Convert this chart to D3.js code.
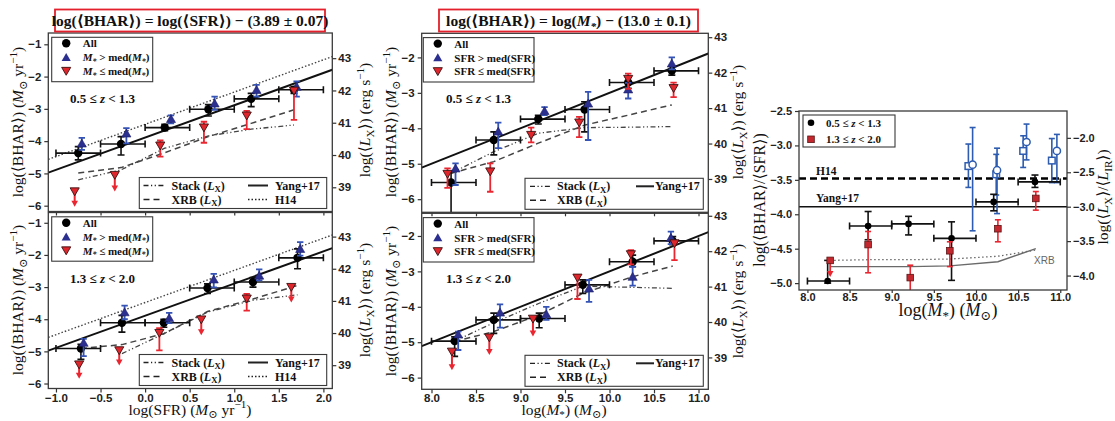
<!DOCTYPE html>
<html>
<head>
<meta charset="utf-8">
<script src="https://cdn.jsdelivr.net/npm/d3@7"></script>
<style>
  body { margin: 0; background: #fff; }
  svg { display: block; }
</style>
</head>
<body>
<svg id="fig" width="1115" height="421"></svg>
<script>
// ---------------- bins and ticks ----------------
const sfrBinEdges  = [-1.0, -0.5, 0.0, 0.5, 1.0, 1.5, 2.0];
const massBinEdges = [8.0, 8.5, 9.0, 9.5, 10.0, 10.5, 11.0];
const sfrTicks   = [-1.0, -0.5, 0.0, 0.5, 1.0, 1.5, 2.0];
const massTicks  = [8.0, 8.5, 9.0, 9.5, 10.0, 10.5, 11.0];
const bharTicksSfr  = [-6, -5, -4, -3, -2, -1];
const bharTicksMass = [-6, -5, -4, -3, -2];
const lxTicks    = [39, 40, 41, 42, 43];
const ratioTicks = [-5.0, -4.5, -4.0, -3.5, -3.0, -2.5];
const lxirTicks  = [-4.0, -3.5, -3.0, -2.5, -2.0];

// relations
const yangSfrOffset  = -3.89;   // log BHAR = log SFR - 3.89
const h14SfrOffset   = -3.48;
const yangMassOffset = -13.0;   // log BHAR = log M* - 13.0
const yangRatio = -3.89;
const h14Ratio  = -3.48;
const LX_OFFSET = 44.43;        // log Lx = log BHAR + offset
const LXIR_OFFSET = 0.89;       // log Lx/LIR = log BHAR/SFR + offset

// ---------------- BHAR vs SFR, 0.5 <= z < 1.3 ----------------
// [x, y, yLow, yHigh]
const sfrLoAll = [
  [-0.75, -4.37, -4.58, -4.17],
  [-0.27, -4.09, -4.43, -3.86],
  [ 0.22, -3.58, -3.68, -3.48],
  [ 0.71, -3.01, -3.22, -2.87],
  [ 1.19, -2.69, -2.93, -2.52],
  [ 1.67, -2.41, -2.52, -2.32]
];
const sfrLoHighMass = [
  [-0.71, -4.07, -4.27, -3.90],
  [-0.21, -3.76, -4.07, -3.60],
  [ 0.29, -3.31, -3.45, -3.20],
  [ 0.78, -2.83, -3.03, -2.62],
  [ 1.25, -2.41, -2.62, -2.26],
  [ 1.70, -2.31, -2.62, -2.15]
];
// [x, y, yLow, yHigh, upperLimit]
const sfrLoLowMass = [
  [-0.79, -5.56, -6.03, -5.56, 1],
  [-0.34, -5.05, -5.56, -5.05, 1],
  [ 0.17, -4.14, -4.48, -3.98, 0],
  [ 0.66, -3.58, -4.05, -3.40, 0],
  [ 1.14, -3.21, -3.63, -3.06, 0],
  [ 1.67, -2.44, -3.34, -2.36, 0]
];
const sfrLoCurveX = [-0.75, -0.27, 0.22, 0.71, 1.19, 1.67];
const sfrLoStack  = [-5.20, -4.89, -4.22, -3.84, -3.63, -3.50];
const sfrLoXrb    = [-4.99, -4.82, -4.36, -3.86, -3.45, -3.03];

// ---------------- BHAR vs SFR, 1.3 <= z < 2.0 ----------------
const sfrHiAll = [
  [-0.72, -4.91, -5.25, -4.78],
  [-0.26, -4.11, -4.40, -3.88],
  [ 0.21, -4.11, -4.25, -4.00],
  [ 0.70, -3.03, -3.20, -2.90],
  [ 1.21, -2.84, -3.00, -2.70],
  [ 1.71, -2.09, -2.43, -1.81]
];
const sfrHiHighMass = [
  [-0.69, -4.73, -5.15, -4.61],
  [-0.23, -3.78, -4.00, -3.58],
  [ 0.27, -3.96, -4.12, -3.80],
  [ 0.77, -2.76, -3.01, -2.59],
  [ 1.28, -2.64, -2.79, -2.45],
  [ 1.74, -1.81, -2.02, -1.60]
];
const sfrHiLowMass = [
  [-0.74, -5.41, -5.85, -5.41, 1],
  [-0.29, -4.97, -5.44, -4.97, 1],
  [ 0.16, -4.43, -4.97, -4.28, 0],
  [ 0.63, -4.01, -4.50, -4.01, 1],
  [ 1.14, -3.36, -3.73, -3.21, 0],
  [ 1.64, -3.00, -3.48, -3.00, 1]
];
const sfrHiStackX = [-0.26, 0.21, 0.70, 1.21, 1.71];
const sfrHiStack  = [-5.07, -4.45, -3.78, -3.41, -3.24];
const sfrHiXrbX   = [-0.72, -0.26, 0.21, 0.70, 1.21, 1.71];
const sfrHiXrb    = [-4.91, -4.79, -4.45, -3.76, -3.37, -2.95];

// ---------------- BHAR vs M*, 0.5 <= z < 1.3 ----------------
const massLoAll = [
  [ 8.22, -5.53, -6.80, -5.22],
  [ 8.70, -4.33, -4.75, -4.10],
  [ 9.20, -3.74, -3.88, -3.63],
  [ 9.72, -3.47, -4.10, -3.25],
  [10.21, -2.71, -2.87, -2.55],
  [10.70, -2.38, -2.50, -2.25]
];
const massLoHighSfr = [
  [ 8.27, -5.13, -5.60, -4.99],
  [ 8.75, -4.09, -4.56, -3.84],
  [ 9.27, -3.51, -3.63, -3.40],
  [ 9.76, -3.30, -4.33, -2.97],
  [10.21, -2.90, -3.16, -2.72],
  [10.70, -2.17, -2.34, -2.00]
];
const massLoLowSfr = [
  [ 8.18, -5.29, -5.68, -5.13, 0],
  [ 8.66, -5.22, -5.79, -4.99, 0],
  [ 9.12, -4.19, -4.40, -3.98, 0],
  [ 9.66, -3.84, -4.25, -3.68, 0],
  [10.21, -2.61, -2.89, -2.46, 0],
  [10.72, -2.87, -3.12, -2.71, 0]
];
const massLoCurveX = [8.22, 8.70, 9.20, 9.72, 10.21, 10.70];
const massLoStack  = [-5.27, -4.66, -4.14, -3.98, -3.97, -3.95];
const massLoXrb    = [-5.27, -4.94, -4.42, -3.91, -3.63, -3.34];

// ---------------- BHAR vs M*, 1.3 <= z < 2.0 ----------------
const massHiAll = [
  [ 8.26, -4.97, -5.40, -4.85],
  [ 8.70, -4.37, -4.75, -4.18],
  [ 9.21, -4.33, -4.59, -4.18],
  [ 9.70, -3.38, -3.62, -3.24],
  [10.26, -2.73, -2.87, -2.54],
  [10.71, -2.14, -2.25, -2.02]
];
const massHiHighSfr = [
  [ 8.30, -4.78, -5.22, -4.70],
  [ 8.77, -4.16, -4.59, -3.93],
  [ 9.29, -4.21, -4.37, -4.00],
  [ 9.77, -3.48, -3.86, -3.24],
  [10.26, -3.15, -3.40, -2.87],
  [10.69, -2.05, -2.23, -1.88]
];
const massHiLowSfr = [
  [ 8.23, -5.27, -5.79, -5.27, 1],
  [ 8.65, -4.87, -5.36, -4.87, 1],
  [ 9.14, -4.34, -4.84, -4.34, 1],
  [ 9.64, -3.18, -3.78, -3.12, 0],
  [10.24, -2.52, -2.80, -2.40, 0],
  [10.73, -2.21, -2.68, -2.21, 0]
];
const massHiCurveX = [8.26, 8.70, 9.21, 9.70, 10.26, 10.71];
const massHiStack  = [-4.97, -4.45, -3.90, -3.42, -3.45, -3.48];
const massHiXrb    = [-4.98, -4.70, -4.23, -3.62, -3.15, -2.85];

// ---------------- BHAR/SFR vs M* ----------------
const ratioLoZ = [
  [ 8.24, -4.97, -5.00, -4.67],
  [ 8.72, -4.17, -4.37, -3.96],
  [ 9.20, -4.14, -4.30, -4.03],
  [ 9.71, -4.35, -4.96, -4.11],
  [10.21, -3.82, -3.95, -3.71],
  [10.70, -3.53, -3.61, -3.43]
];
const ratioHiZ = [
  [ 8.27, -4.67, -4.91, -4.67, 1],
  [ 8.72, -4.44, -4.85, -4.25, 0],
  [ 9.22, -4.92, -5.30, -4.74, 0],
  [ 9.69, -4.53, -4.76, -4.40, 0],
  [10.26, -4.21, -4.40, -4.08, 0],
  [10.71, -3.77, -3.94, -3.67, 0]
];
const ratioOpenSquares = [
  [ 9.91, -3.30, -3.61, -2.98],
  [10.24, -3.42, -3.72, -3.13],
  [10.56, -3.08, -3.32, -2.86],
  [10.90, -3.22, -3.54, -2.90]
];
const ratioOpenCircles = [
  [ 9.96, -3.28, -4.24, -2.74],
  [10.25, -3.36, -3.99, -3.04],
  [10.60, -2.95, -3.21, -2.69],
  [10.96, -3.08, -3.54, -2.84]
];
const ratioCurveX = [8.27, 8.72, 9.22, 9.69, 10.26, 10.71];
const ratioStack  = [-4.67, -4.66, -4.66, -4.65, -4.61, -4.52];
const ratioXrb    = [-4.76, -4.76, -4.76, -4.75, -4.69, -4.50];

// ---------------- drawing ----------------
const svg = d3.select('#fig');
const SERIF = '"Liberation Serif","DejaVu Serif",serif';
const SANS  = '"Liberation Sans","DejaVu Sans",sans-serif';
const BLUE_FILL = '#2b2f8f', BLUE_ERR = '#3553b5';
const RED_FILL = '#e0262d', RED_ERR = '#ea2630';
const OPEN_BLUE = '#2d5cb0';
const fmt0 = d3.format('d'), fmt1 = d3.format('.1f');
let clipId = 0;

// text with italic / sub / superscript pieces
function addRich(textSel, parts, fs) {
  let shift = 0;
  parts.forEach(([str, st]) => {
    const t = textSel.append('tspan').text(str);
    let target = 0, size = fs;
    if (st === 'sub' || st === 'isub') { target = fs * 0.24; size = fs * 0.72; }
    if (st === 'sup') { target = -fs * 0.40; size = fs * 0.72; }
    if (st === 'i' || st === 'isub') t.attr('font-style', 'italic');
    t.attr('font-size', size);
    if (target - shift !== 0) t.attr('dy', target - shift);
    shift = target;
  });
}
function richText(x, y, parts, fs, opts = {}) {
  const t = svg.append('text')
    .attr('font-family', opts.family || SERIF)
    .attr('font-weight', opts.weight || 'normal')
    .attr('font-size', fs)
    .attr('fill', opts.fill || '#111')
    .attr('text-anchor', opts.anchor || 'start');
  if (opts.rotate) t.attr('transform', `translate(${x},${y}) rotate(-90)`);
  else t.attr('x', x).attr('y', y);
  addRich(t, parts, fs);
  return t;
}

function styleAxis(a, fs) {
  a.select('.domain').remove();
  a.selectAll('.tick line').attr('stroke', '#333').attr('stroke-width', 1.2);
  a.selectAll('.tick text').attr('font-family', SANS).attr('font-weight', 'bold')
    .attr('font-size', fs).attr('fill', '#222');
}

function makePanel(o) {
  const x = d3.scaleLinear().domain(o.xDomain).range([o.x0, o.x1]);
  const y = d3.scaleLinear().domain(o.yDomain).range([o.y1, o.y0]);
  const yR = d3.scaleLinear().domain(o.yDomain.map(v => v + o.rOffset)).range([o.y1, o.y0]);
  const id = 'clip' + (clipId++);
  svg.append('clipPath').attr('id', id).append('rect')
    .attr('x', o.x0).attr('y', o.y0).attr('width', o.x1 - o.x0).attr('height', o.y1 - o.y0);
  const plot = svg.append('g').attr('clip-path', `url(#${id})`);
  const axes = svg.append('g');
  const fs = o.tickFont || 11.5;
  const add = (gen, tx, ty) => styleAxis(axes.append('g').attr('transform', `translate(${tx},${ty})`).call(gen), fs);
  add(d3.axisLeft(y).tickValues(o.yTicks).tickFormat(o.yFmt).tickSize(4).tickPadding(3), o.x0, 0);
  add(d3.axisRight(yR).tickValues(o.rTicks).tickFormat(o.rFmt).tickSize(4).tickPadding(2), o.x1, 0);
  add(d3.axisBottom(x).tickValues(o.xTicks).tickFormat(o.showX ? o.xFmt : () => '')
    .tickSize(o.xTickSize || 4).tickPadding(o.xPad === undefined ? 1 : o.xPad), 0, o.y1);
  axes.append('rect').attr('x', o.x0).attr('y', o.y0).attr('width', o.x1 - o.x0).attr('height', o.y1 - o.y0)
    .attr('fill', 'none').attr('stroke', '#3a3a3a').attr('stroke-width', 1.3);
  return { x, y, plot, o };
}

function seg(g, x1, y1, x2, y2, color, w, dash) {
  const l = g.append('line').attr('x1', x1).attr('y1', y1).attr('x2', x2).attr('y2', y2)
    .attr('stroke', color).attr('stroke-width', w);
  if (dash) l.attr('stroke-dasharray', dash);
  return l;
}
function errV(g, px, ya, yb, color, cap, w) {
  seg(g, px, ya, px, yb, color, w);
  seg(g, px - cap, ya, px + cap, ya, color, w);
  seg(g, px - cap, yb, px + cap, yb, color, w);
}
function arrowDown(g, px, yTip, color) {
  g.append('path').attr('d', `M${px - 3.3},${yTip - 6}L${px + 3.3},${yTip - 6}L${px},${yTip}Z`).attr('fill', color);
}

// straight relation of slope one
function relation(p, offset, color, w, dash) {
  const [a, b] = p.x.domain();
  const l = p.plot.append('path')
    .attr('d', d3.line()([[p.x(a), p.y(a + offset)], [p.x(b), p.y(b + offset)]]))
    .attr('fill', 'none').attr('stroke', color).attr('stroke-width', w);
  if (dash) l.attr('stroke-dasharray', dash);
}
function hline(p, v, color, w, dash) {
  const [a, b] = p.x.domain();
  seg(p.plot, p.x(a), p.y(v), p.x(b), p.y(v), color, w, dash);
}
function curve(p, xs, ys, color, w, dash) {
  const l = p.plot.append('path')
    .attr('d', d3.line().x(d => p.x(d[0])).y(d => p.y(d[1]))(d3.zip(xs, ys)))
    .attr('fill', 'none').attr('stroke', color).attr('stroke-width', w);
  if (dash) l.attr('stroke-dasharray', dash);
}

const STACK_DASH = '5,2.5,1.2,2.5,1.2,2.5';
const XRB_DASH = '6,4';
const H14_DASH = '1.5,2';

function drawAll(p, rows, edges, r = 4.2) {
  const g = p.plot;
  rows.forEach((d, i) => {
    const py = p.y(d[1]);
    const xa = p.x(edges[i]), xb = p.x(edges[i + 1]);
    seg(g, xa, py, xb, py, '#111', 1.6);
    seg(g, xa, py - 3.5, xa, py + 3.5, '#111', 1.6);
    seg(g, xb, py - 3.5, xb, py + 3.5, '#111', 1.6);
    errV(g, p.x(d[0]), p.y(d[2]), p.y(d[3]), '#111', 3.5, 1.6);
    g.append('circle').attr('cx', p.x(d[0])).attr('cy', py).attr('r', r).attr('fill', '#000');
  });
}
const triUp = d3.symbol(d3.symbolTriangle, 36)();
function drawUp(p, rows) {
  const g = p.plot;
  rows.forEach(d => {
    const px = p.x(d[0]);
    errV(g, px, p.y(d[2]), p.y(d[3]), BLUE_ERR, 3.2, 1.8);
    g.append('path').attr('d', triUp).attr('transform', `translate(${px},${p.y(d[1]) + 1})`)
      .attr('fill', BLUE_FILL).attr('stroke', '#1c1f6a').attr('stroke-width', 0.6);
  });
}
function drawDown(p, rows) {
  const g = p.plot;
  rows.forEach(d => {
    const px = p.x(d[0]), py = p.y(d[1]);
    if (d[4]) {
      seg(g, px, py, px, p.y(d[2]) - 4, RED_ERR, 2);
      arrowDown(g, px, p.y(d[2]), RED_ERR);
    } else {
      errV(g, px, p.y(d[2]), p.y(d[3]), RED_ERR, 3.2, 1.8);
    }
    g.append('path').attr('d', triUp).attr('transform', `translate(${px},${py - 1}) rotate(180)`)
      .attr('fill', RED_FILL).attr('stroke', '#3a1010').attr('stroke-width', 0.9);
  });
}

// legend of marker series in upper left corner
function markerLegend(p, x0, w, labels, fs) {
  const top = p.o.y0 + 4.3;
  const g = svg.append('g');
  g.append('rect').attr('x', x0).attr('y', top).attr('width', w).attr('height', 44.4)
    .attr('fill', '#fff').attr('stroke', '#3a3a3a').attr('stroke-width', 1.1);
  const mx = x0 + 14.5, tx = x0 + 31;
  const rows = [top + 6, top + 20, top + 33.7];
  g.append('circle').attr('cx', mx).attr('cy', rows[0]).attr('r', 4.2).attr('fill', '#000');
  g.append('path').attr('d', triUp).attr('transform', `translate(${mx},${rows[1] + 1})`).attr('fill', BLUE_FILL);
  g.append('path').attr('d', triUp).attr('transform', `translate(${mx},${rows[2] - 1}) rotate(180)`)
    .attr('fill', RED_FILL).attr('stroke', '#3a1010').attr('stroke-width', 0.9);
  labels.forEach((parts, i) => richText(tx, rows[i] + 4, parts, fs, { weight: 'bold' }));
}

// legend of lines in lower right corner
function lineLegend(p, x0, x1, cols) {
  const bot = p.o.y1;
  svg.append('rect').attr('x', x0).attr('y', bot - 34).attr('width', x1 - x0).attr('height', 31)
    .attr('fill', '#fff').attr('stroke', '#3a3a3a').attr('stroke-width', 1.1);
  const rows = [bot - 26, bot - 12];
  cols.forEach(c => c.items.forEach((it, i) => {
    seg(svg, c.lx, rows[i], c.lx + c.len, rows[i], '#222', it.w, it.dash);
    richText(c.tx, rows[i] + 4, it.parts, 12, { weight: 'bold' });
  }));
}

function zLabel(p, x, parts) {
  richText(x, p.o.y0 + 70, parts, 13, { weight: 'bold' });
}

// ---------------- text pieces ----------------
const yBharParts = [['log(⟨BHAR⟩) ('], ['M', 'i'], ['⊙', 'sub'], [' yr'], ['−1', 'sup'], [')']];
const yLxParts   = [['log(⟨'], ['L', 'i'], ['X', 'sub'], ['⟩) (erg s'], ['−1', 'sup'], [')']];
const xSfrParts  = [['log(SFR) ('], ['M', 'i'], ['⊙', 'sub'], [' yr'], ['−1', 'sup'], [')']];
const xMassParts = [['log('], ['M', 'i'], ['*', 'sub'], [') ('], ['M', 'i'], ['⊙', 'sub'], [')']];
const yRatioParts = [['log(⟨BHAR⟩/⟨SFR⟩)']];
const yLxIrParts  = [['log(⟨'], ['L', 'i'], ['X', 'sub'], ['⟩/⟨'], ['L', 'i'], ['IR', 'sub'], ['⟩)']];
const zLoParts = [['0.5 ≤ '], ['z', 'i'], [' < 1.3']];
const zHiParts = [['1.3 ≤ '], ['z', 'i'], [' < 2.0']];
const massSplitLabels = [
  [['All']],
  [['M', 'i'], ['*', 'isub'], [' > med('], ['M', 'i'], ['*', 'isub'], [')']],
  [['M', 'i'], ['*', 'isub'], [' ≤ med('], ['M', 'i'], ['*', 'isub'], [')']]
];
const sfrSplitLabels = [[['All']], [['SFR > med(SFR)']], [['SFR ≤ med(SFR)']]];
const stackParts = [['Stack ('], ['L', 'i'], ['X', 'sub'], [')']];
const xrbParts   = [['XRB ('], ['L', 'i'], ['X', 'sub'], [')']];

// ---------------- panels: BHAR vs SFR ----------------
const sfrPanelCfg = { x0: 48.3, x1: 332.3, xDomain: [-1.086, 2.10], xTicks: sfrTicks, yTicks: bharTicksSfr,
  rTicks: lxTicks, rOffset: LX_OFFSET, xFmt: fmt1, yFmt: fmt0, rFmt: fmt0 };
const pA = makePanel({ ...sfrPanelCfg, y0: 33, y1: 211.5, yDomain: [-6.18, -0.65], showX: false });
const pB = makePanel({ ...sfrPanelCfg, y0: 212.5, y1: 388.5, yDomain: [-6.155, -0.68], showX: true });

[[pA, sfrLoCurveX, sfrLoStack, sfrLoCurveX, sfrLoXrb, sfrLoAll, sfrLoHighMass, sfrLoLowMass],
 [pB, sfrHiStackX, sfrHiStack, sfrHiXrbX, sfrHiXrb, sfrHiAll, sfrHiHighMass, sfrHiLowMass]]
  .forEach(([p, sx, sy, xx, xy, all, hi, lo]) => {
    relation(p, h14SfrOffset, '#444', 1.4, H14_DASH);
    relation(p, yangSfrOffset, '#111', 2);
    curve(p, sx, sy, '#444', 1.3, STACK_DASH);
    curve(p, xx, xy, '#444', 1.5, XRB_DASH);
    drawAll(p, all, sfrBinEdges);
    drawUp(p, hi);
    drawDown(p, lo);
    markerLegend(p, 51.7, 101, massSplitLabels, 11);
    lineLegend(p, 139.3, 326.7, [
      { lx: 143.5, len: 20, tx: 171.5, items: [{ parts: stackParts, w: 1.3, dash: STACK_DASH }, { parts: xrbParts, w: 1.5, dash: XRB_DASH }] },
      { lx: 248, len: 20, tx: 275, items: [{ parts: [['Yang+17']], w: 2 }, { parts: [['H14']], w: 1.4, dash: H14_DASH }] }
    ]);
  });
zLabel(pA, 70, zLoParts);
zLabel(pB, 70, zHiParts);

// ---------------- panels: BHAR vs M* ----------------
const massPanelCfg = { x0: 421.7, x1: 708.3, xDomain: [7.89, 11.11], xTicks: massTicks, yTicks: bharTicksMass,
  rTicks: lxTicks, rOffset: LX_OFFSET, xFmt: fmt1, yFmt: fmt0, rFmt: fmt0 };
const pC = makePanel({ ...massPanelCfg, y0: 33.3, y1: 212.3, yDomain: [-6.37, -1.32], showX: false });
const pD = makePanel({ ...massPanelCfg, y0: 213.3, y1: 389.3, yDomain: [-6.33, -1.36], showX: true });

[[pC, massLoCurveX, massLoStack, massLoXrb, massLoAll, massLoHighSfr, massLoLowSfr],
 [pD, massHiCurveX, massHiStack, massHiXrb, massHiAll, massHiHighSfr, massHiLowSfr]]
  .forEach(([p, cx, sy, xy, all, hi, lo]) => {
    relation(p, yangMassOffset, '#111', 2);
    curve(p, cx, sy, '#444', 1.3, STACK_DASH);
    curve(p, cx, xy, '#444', 1.5, XRB_DASH);
    drawAll(p, all, massBinEdges);
    drawUp(p, hi);
    drawDown(p, lo);
    markerLegend(p, 423.3, 110.7, sfrSplitLabels, 11);
    lineLegend(p, 525, 703.3, [
      { lx: 530, len: 20, tx: 557, items: [{ parts: stackParts, w: 1.3, dash: STACK_DASH }, { parts: xrbParts, w: 1.5, dash: XRB_DASH }] },
      { lx: 636, len: 18, tx: 655, items: [{ parts: [['Yang+17']], w: 2 }] }
    ]);
  });
zLabel(pC, 446, zLoParts);
zLabel(pD, 446, zHiParts);

// ---------------- panel: BHAR/SFR vs M* ----------------
const pE = makePanel({ x0: 799, x1: 1067, y0: 111, y1: 290, xDomain: [7.9, 11.08], yDomain: [-5.1, -2.5],
  xTicks: massTicks, yTicks: ratioTicks, rTicks: lxirTicks, rOffset: LXIR_OFFSET, showX: true,
  xFmt: fmt1, yFmt: fmt1, rFmt: fmt1, tickFont: 11, xTickSize: 3, xPad: 0.5 });
hline(pE, h14Ratio, '#000', 2.6, '7,4');
hline(pE, yangRatio, '#111', 1.6);
curve(pE, ratioCurveX, ratioStack, '#666', 1.3, '1.5,2.5');
curve(pE, ratioCurveX, ratioXrb, '#6a6a6a', 1.4);
(function () {
  const g = pE.plot;
  ratioOpenSquares.forEach(d => {
    const px = pE.x(d[0]);
    errV(g, px, pE.y(d[2]), pE.y(d[3]), OPEN_BLUE, 3, 1.6);
    g.append('rect').attr('x', px - 3.3).attr('y', pE.y(d[1]) - 3.3).attr('width', 6.6).attr('height', 6.6)
      .attr('fill', '#fff').attr('stroke', OPEN_BLUE).attr('stroke-width', 1.5);
  });
  ratioOpenCircles.forEach(d => {
    const px = pE.x(d[0]);
    errV(g, px, pE.y(d[2]), pE.y(d[3]), OPEN_BLUE, 3, 1.6);
    g.append('circle').attr('cx', px).attr('cy', pE.y(d[1])).attr('r', 3.6)
      .attr('fill', '#fff').attr('stroke', OPEN_BLUE).attr('stroke-width', 1.5);
  });
  drawAll(pE, ratioLoZ, massBinEdges, 3.3);
  ratioHiZ.forEach(d => {
    const px = pE.x(d[0]), py = pE.y(d[1]);
    if (d[4]) {
      seg(g, px, py, px, pE.y(d[2]) - 4, RED_ERR, 1.8);
      arrowDown(g, px, pE.y(d[2]), RED_ERR);
    } else {
      errV(g, px, pE.y(d[2]), pE.y(d[3]), RED_ERR, 3, 1.6);
    }
    g.append('rect').attr('x', px - 3.3).attr('y', py - 3.3).attr('width', 6.6).attr('height', 6.6)
      .attr('fill', '#c4282e').attr('stroke', '#5a1515').attr('stroke-width', 0.8);
  });
})();
richText(1034, 264, [['XRB']], 10, { family: SANS, fill: '#666' });
richText(816, 175, [['H14']], 11.5, { weight: 'bold' });
richText(816, 202, [['Yang+17']], 11.5, { weight: 'bold' });
// legend
svg.append('rect').attr('x', 803).attr('y', 115).attr('width', 92).attr('height', 32)
  .attr('fill', '#fff').attr('stroke', '#3a3a3a').attr('stroke-width', 1.1);
svg.append('circle').attr('cx', 811).attr('cy', 122.7).attr('r', 3.3).attr('fill', '#000');
svg.append('rect').attr('x', 807.7).attr('y', 136).attr('width', 6.6).attr('height', 6.6)
  .attr('fill', '#c4282e').attr('stroke', '#5a1515').attr('stroke-width', 0.8);
richText(826, 126.7, zLoParts, 11, { weight: 'bold' });
richText(826, 143.3, zHiParts, 11, { weight: 'bold' });

// ---------------- axis titles ----------------
richText(23, 122, yBharParts, 15.5, { rotate: true, anchor: 'middle' });
richText(23, 300, yBharParts, 15.5, { rotate: true, anchor: 'middle' });
richText(370, 120, yLxParts, 15.5, { rotate: true, anchor: 'middle' });
richText(370, 300, yLxParts, 15.5, { rotate: true, anchor: 'middle' });
richText(396, 122, yBharParts, 15.5, { rotate: true, anchor: 'middle' });
richText(396, 301, yBharParts, 15.5, { rotate: true, anchor: 'middle' });
richText(743, 122, yLxParts, 15.5, { rotate: true, anchor: 'middle' });
richText(743, 301, yLxParts, 15.5, { rotate: true, anchor: 'middle' });
richText(765, 200, yRatioParts, 16, { rotate: true, anchor: 'middle' });
richText(1108, 197, yLxIrParts, 15.5, { rotate: true, anchor: 'middle' });
richText(190, 414.5, xSfrParts, 15.5, { anchor: 'middle' });
richText(564, 414.5, xMassParts, 15.5, { anchor: 'middle' });
richText(948, 316, xMassParts, 18, { anchor: 'middle' });

// ---------------- boxed relations above the columns ----------------
function boxedTitle(x, w, parts) {
  svg.append('rect').attr('x', x).attr('y', 9.5).attr('width', w).attr('height', 22)
    .attr('fill', 'none').attr('stroke', '#e3202b').attr('stroke-width', 1.8);
  richText(x + w / 2, 26, parts, 15.5, { weight: 'bold', anchor: 'middle' });
}
boxedTitle(55, 270, [['log(⟨BHAR⟩) = log(⟨SFR⟩) − (3.89 ± 0.07)']]);
boxedTitle(439, 259, [['log(⟨BHAR⟩) = log('], ['M', 'i'], ['*', 'isub'], [') − (13.0 ± 0.1)']]);
</script>
</body>
</html>
